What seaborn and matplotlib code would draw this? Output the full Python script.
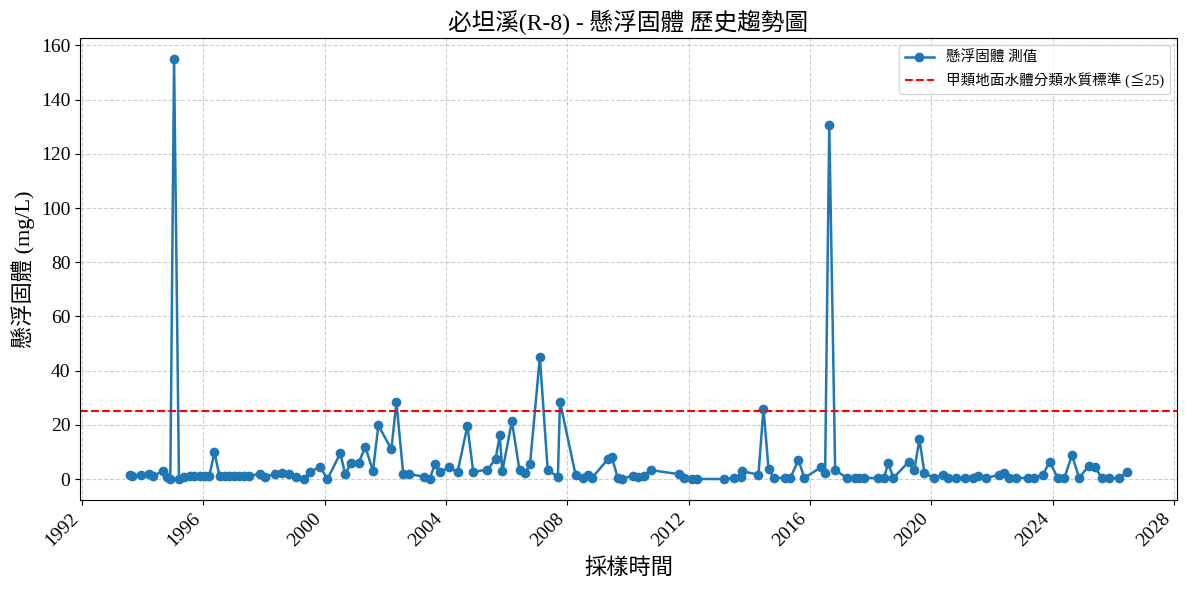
import matplotlib
matplotlib.use("Agg")
import matplotlib.pyplot as plt
import matplotlib.dates as mdates
import seaborn as sns
import pandas as pd

sample_dates = [
    "1993-08-01", "1993-08-25", "1993-12-15", "1994-03-15", "1994-05-10",
    "1994-09-01", "1994-10-20", "1994-12-01", "1995-01-15", "1995-03-15",
    "1995-05-15", "1995-07-20", "1995-09-15", "1995-11-25", "1996-01-20",
    "1996-03-15", "1996-05-15", "1996-07-15", "1996-09-15", "1996-11-10",
    "1997-01-10", "1997-03-10", "1997-05-10", "1997-07-05", "1997-11-10",
    "1998-01-08", "1998-05-15", "1998-08-05", "1998-11-01", "1999-01-20",
    "1999-05-01", "1999-07-10", "1999-11-05", "2000-02-05", "2000-07-08",
    "2000-09-05", "2000-11-15", "2001-02-15", "2001-05-05", "2001-08-05",
    "2001-10-10", "2002-03-15", "2002-05-15", "2002-08-05", "2002-10-10",
    "2003-04-10", "2003-06-20", "2003-08-20", "2003-10-20", "2004-02-05",
    "2004-05-20", "2004-09-15", "2004-11-25", "2005-05-15", "2005-08-20",
    "2005-10-10", "2005-11-10", "2006-03-05", "2006-06-05", "2006-08-15",
    "2006-10-10", "2007-02-05", "2007-05-10", "2007-09-10", "2007-10-05",
    "2008-04-10", "2008-07-10", "2008-09-05", "2008-10-20", "2009-05-10",
    "2009-06-20", "2009-09-01", "2009-10-15", "2010-02-25", "2010-05-01",
    "2010-07-10", "2010-10-05", "2011-09-01", "2011-11-01", "2012-02-05",
    "2012-04-10", "2013-03-05", "2013-06-25", "2013-09-20", "2013-10-05",
    "2014-04-20", "2014-06-20", "2014-08-20", "2014-10-25", "2015-03-05",
    "2015-05-10", "2015-08-15", "2015-10-25", "2016-05-10", "2016-07-01",
    "2016-08-20", "2016-10-30", "2017-03-20", "2017-06-25", "2017-08-15",
    "2017-10-10", "2018-04-01", "2018-06-10", "2018-07-30", "2018-10-01",
    "2019-04-05", "2019-06-10", "2019-08-10", "2019-10-10", "2020-02-05",
    "2020-05-25", "2020-07-20", "2020-10-25", "2021-02-10", "2021-05-15",
    "2021-07-20", "2021-10-25", "2022-03-28", "2022-05-22", "2022-07-25",
    "2022-10-20", "2023-03-10", "2023-05-25", "2023-09-05", "2023-11-25",
    "2024-03-01", "2024-05-20", "2024-08-20", "2024-11-15", "2025-03-10",
    "2025-05-25", "2025-08-15", "2025-11-10", "2026-03-15", "2026-06-15",
]

ss_values = [
    1.6, 1.2, 1.6, 1.7, 1.1,
    3.0, 0.8, 0.0, 155.0, 0.0,
    0.9, 1.3, 1.3, 1.3, 1.3,
    1.3, 9.8, 1.2, 1.2, 1.2,
    1.2, 1.2, 1.2, 1.2, 1.8,
    0.9, 1.8, 2.2, 1.8, 0.9,
    0.1, 2.5, 4.6, 0.0, 9.5,
    1.8, 6.0, 6.0, 11.9, 3.0,
    19.8, 11.0, 28.4, 1.8, 1.8,
    0.9, 0.0, 5.5, 2.5, 4.3,
    2.5, 19.6, 2.6, 3.5, 7.3,
    16.1, 2.8, 21.3, 3.2, 2.1,
    5.7, 45.0, 3.2, 0.9, 28.6,
    1.5, 0.3, 1.6, 0.3, 7.5,
    8.0, 0.3, 0.0, 1.2, 0.9,
    1.2, 3.3, 1.8, 0.4, 0.0,
    0.0, 0.0, 0.4, 0.6, 2.9,
    1.6, 26.0, 3.7, 0.4, 0.4,
    0.4, 7.1, 0.4, 4.3, 2.4,
    130.6, 3.3, 0.4, 0.4, 0.4,
    0.4, 0.4, 0.4, 5.9, 0.4,
    6.4, 3.3, 14.7, 2.2, 0.4,
    1.6, 0.4, 0.4, 0.4, 0.4,
    1.2, 0.4, 1.6, 2.4, 0.4,
    0.4, 0.4, 0.4, 1.6, 6.4,
    0.4, 0.4, 8.8, 0.4, 4.9,
    4.3, 0.4, 0.4, 0.4, 2.7,
]

standard_limit = 25
series_label = "懸浮固體 測值"
limit_label = "甲類地面水體分類水質標準 (≦25)"


def main():
    plt.rcParams["font.family"] = ["Liberation Serif", "Noto Sans CJK TC", "DejaVu Sans"]

    df = pd.DataFrame({"date": pd.to_datetime(sample_dates), "value": ss_values})

    fig, ax = plt.subplots(figsize=(11.89, 5.9), dpi=100)
    sns.lineplot(data=df, x="date", y="value", marker="o", markersize=7,
                 markeredgewidth=0, linewidth=1.8, color="#1f77b4",
                 label=series_label, ax=ax)
    ax.axhline(standard_limit, color="red", linestyle="--", linewidth=1.5,
               label=limit_label)

    ax.set_title("必坦溪(R-8) - 懸浮固體 歷史趨勢圖", fontsize=17)
    ax.set_xlabel("採樣時間", fontsize=16, labelpad=6)
    ax.set_ylabel("懸浮固體 (mg/L)", fontsize=16)

    ax.xaxis.set_major_locator(mdates.YearLocator(4))
    ax.xaxis.set_major_formatter(mdates.DateFormatter("%Y"))
    ax.tick_params(axis="both", labelsize=14)
    plt.setp(ax.get_xticklabels(), rotation=45, ha="right")

    ax.grid(True, linestyle="--", alpha=0.6)
    ax.legend(loc="upper right", fontsize=10.5)

    fig.subplots_adjust(left=0.0673, right=0.9899, top=0.9356, bottom=0.1525)
    plt.savefig("out.png", dpi=100)


if __name__ == "__main__":
    main()
